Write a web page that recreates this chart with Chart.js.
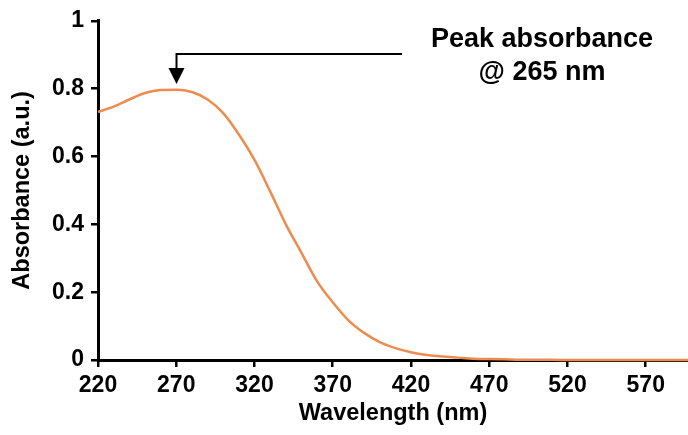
<!DOCTYPE html>
<html>
<head>
<meta charset="utf-8">
<script src="https://cdn.jsdelivr.net/npm/chart.js@4.4.0/dist/chart.umd.min.js"></script>
<style>
html,body{margin:0;padding:0;background:#fff;}
#wrap{position:relative;width:688px;height:435px;}
</style>
</head>
<body>
<div id="wrap"><canvas id="c" width="688" height="435"></canvas></div>
<script>
const wavelengths = [220,230,240,250,260,270,280,290,300,310,320,330,340,350,360,370,380,390,400,410,420,430,440,450,460,470,480,490,500,520,540,560,580,597];
const absorbance  = [0.731,0.747,0.768,0.787,0.796,0.797,0.790,0.768,0.728,0.665,0.590,0.497,0.400,0.316,0.232,0.170,0.117,0.080,0.053,0.035,0.023,0.015,0.010,0.007,0.004,0.003,0.002,0.001,0.001,0.000,0.000,0.000,0.000,0.000];
const xTicks = [220,270,320,370,420,470,520,570];
const yTicks = [0,0.2,0.4,0.6,0.8,1];
const xTitle = 'Wavelength (nm)';
const yTitle = 'Absorbance (a.u.)';
const noteLines = ['Peak absorbance','@ 265 nm'];
const arrowX = 270;

const FONT = 'Arial, "Liberation Sans", sans-serif';

const annot = {
  id:'annot',
  afterDatasetsDraw(chart){
    const ctx = chart.ctx;
    const xs = chart.scales.x;
    const ax = Math.round(xs.getPixelForValue(arrowX)) + 0.5;
    ctx.save();
    ctx.strokeStyle = '#000';
    ctx.lineWidth = 2;
    ctx.beginPath();
    ctx.moveTo(402, 54);
    ctx.lineTo(ax, 54);
    ctx.lineTo(ax, 70);
    ctx.stroke();
    ctx.fillStyle = '#000';
    ctx.beginPath();
    ctx.moveTo(ax-8, 68);
    ctx.lineTo(ax+8, 68);
    ctx.lineTo(ax, 84);
    ctx.closePath();
    ctx.fill();
    ctx.font = 'bold 27px ' + FONT;
    ctx.textAlign = 'center';
    ctx.textBaseline = 'middle';
    ctx.fillText(noteLines[0], 542, 40);
    ctx.fillText(noteLines[1], 542, 73);
    ctx.restore();
  }
};

new Chart(document.getElementById('c'), {
  type:'line',
  data:{
    datasets:[{
      data: wavelengths.map((w,i)=>({x:w, y:absorbance[i]})),
      borderColor:'#EE8C50',
      borderWidth:2.5,
      pointRadius:0,
      cubicInterpolationMode:'monotone',
      fill:false,
      clip:false
    }]
  },
  options:{
    responsive:false,
    animation:false,
    events:[],
    layout:{padding:{top:19,right:0,left:0,bottom:0}},
    plugins:{legend:{display:false},tooltip:{enabled:false}},
    scales:{
      x:{
        type:'linear', min:220, max:597,
        afterBuildTicks(s){ s.ticks = xTicks.map(v=>({value:v})); },
        afterFit(s){ s.height = 75; },
        border:{color:'#000', width:3},
        grid:{display:true, drawOnChartArea:false, drawTicks:true, tickLength:7, color:'#000', lineWidth:2.5},
        ticks:{color:'#000', font:{family:FONT, size:23, weight:'bold'}, padding:5, maxRotation:0, autoSkip:false},
        title:{display:true, text:xTitle, color:'#000', font:{family:FONT, size:23.5, weight:'bold'}, padding:{top:0,bottom:7}}
      },
      y:{
        type:'linear', min:0, max:1,
        afterBuildTicks(s){ s.ticks = yTicks.map(v=>({value:v})); },
        afterFit(s){ s.width = 98; },
        border:{color:'#000', width:3},
        grid:{display:true, drawOnChartArea:false, drawTicks:true, tickLength:7, color:'#000', lineWidth:2.5},
        ticks:{color:'#000', font:{family:FONT, size:23, weight:'bold'}, padding:7, callback:(v)=>String(v)},
        title:{display:true, text:yTitle, color:'#000', font:{family:FONT, size:23.5, weight:'bold'}, padding:{top:8,bottom:0}}
      }
    }
  },
  plugins:[annot]
});
</script>
</body>
</html>
